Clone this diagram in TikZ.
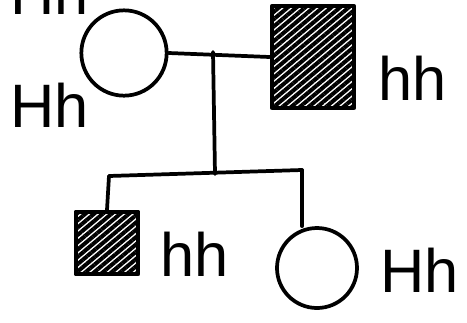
\documentclass[tikz,border=0pt]{standalone}
\usepackage{fontspec}
\setmainfont{Liberation Sans}
\usetikzlibrary{patterns.meta}
\begin{document}
\begin{tikzpicture}[x=0.75pt,y=-0.75pt,
  pen/.style={line width=2.8pt, line cap=round, line join=round},
  female/.style={pen, draw, circle, inner sep=0pt},
  male/.style={pen, draw, rectangle, inner sep=0pt,
     pattern={Lines[angle=40,distance=4.2pt,line width=3pt]}},
  geno/.style={font=\fontsize{46}{46}\selectfont, inner sep=0pt, anchor=base west}]
\useasboundingbox (0,0) rectangle (467,322);
\clip (0,0) rectangle (467,322);
% parents
\node[female, minimum width=64pt, minimum height=64pt] (mother) at (124,53) {};
\node[male, minimum width=62pt, minimum height=76pt] (father) at (313,57) {};
\coordinate (mate) at (213,52);
\draw[pen] (mother.east) -- (father.west);
\coordinate (drop) at (215,174);
\draw[pen] (mate) -- (drop);
% sibship
\coordinate (sibL) at (109,176);
\coordinate (sibR) at (302,170);
\draw[pen] (sibL) -- (sibR);
% children
\node[male, minimum width=47pt, minimum height=47pt] (son) at (107,243) {};
\node[female, minimum width=60pt, minimum height=60pt] (daughter) at (317,268) {};
\draw[pen] (sibL) -- (son.north);
\draw[pen] (sibR) -- (daughter.north -| sibR);
% genotypes
\node[geno] (gtop) at (10,14) {Hh};
\node[geno] (gmother) at (10,127) {Hh};
\node[geno] (gfather) at (378,100) {hh};
\node[geno] (gson) at (160,276) {hh};
\node[geno] (gdaughter) at (380,292) {Hh};
\end{tikzpicture}
\end{document}
